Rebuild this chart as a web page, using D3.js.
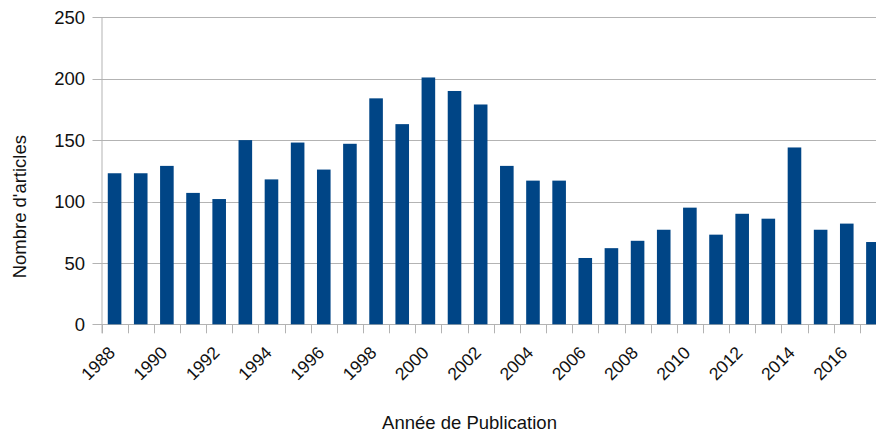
<!DOCTYPE html>
<html>
<head>
<meta charset="utf-8">
<script src="https://cdn.jsdelivr.net/npm/d3@7"></script>
<style>
    body { margin: 0; background: #fff; }
    svg { display: block; font-family: "Liberation Sans", Arial, sans-serif; }
    .grid line { stroke: #b3b3b3; }
</style>
</head>
<body>
<div id="chart"></div>
<script>
const years = [
    1988, 1989, 1990, 1991, 1992, 1993, 1994, 1995, 1996, 1997,
    1998, 1999, 2000, 2001, 2002, 2003, 2004, 2005, 2006, 2007,
    2008, 2009, 2010, 2011, 2012, 2013, 2014, 2015, 2016, 2017
];
const articles = [
    123, 123, 129, 107, 102, 150, 118, 148, 126, 147,
    184, 163, 201, 190, 179, 129, 117, 117, 54, 62,
    68, 77, 95, 73, 90, 86, 144, 77, 82, 67
];
const yTicks = [0, 50, 100, 150, 200, 250];
const xLabelYears = years.filter(d => d % 2 === 0);
const yTitle = "Nombre d'articles";
const xTitle = "Année de Publication";

class BarChart {
    constructor(selector) {
        this.width = 876;
        this.height = 432;
        this.left = 101.5;
        this.right = 886;
        this.top = 17.3;
        this.bottom = 324.3;
        this.barFrac = 0.52;
        this.svg = d3.select(selector).append("svg")
            .attr("width", this.width)
            .attr("height", this.height);

        // one slot per year, ticks sit on slot borders
        this.x = d3.scaleBand()
            .domain(years)
            .range([this.left, this.right])
            .padding(0);

        this.y = d3.scaleLinear()
            .domain([0, 250])
            .range([this.bottom, this.top]);
    }

    drawGrid() {
        this.svg.append("g")
            .attr("class", "grid")
            .selectAll("line")
            .data(yTicks)
            .enter()
            .append("line")
            .attr("x1", this.left - 9)
            .attr("x2", this.width)
            .attr("y1", d => Math.round(this.y(d)) + 0.5)
            .attr("y2", d => Math.round(this.y(d)) + 0.5);

        // y axis labels
        this.svg.append("g")
            .selectAll("text")
            .data(yTicks)
            .enter()
            .append("text")
            .attr("x", this.left - 16.5)
            .attr("y", d => this.y(d))
            .attr("dy", "0.36em")
            .attr("text-anchor", "end")
            .style("font-size", "18.5px")
            .style("fill", "#111")
            .text(d => d);

        // vertical axis line
        this.svg.append("line")
            .attr("x1", this.left + 0.5)
            .attr("x2", this.left + 0.5)
            .attr("y1", this.top)
            .attr("y2", this.bottom + 9)
            .style("stroke", "#b3b3b3");
    }

    drawXAxis() {
        const step = this.x.step();
        const borders = years.map(d => this.x(d)).concat([this.right]);

        this.svg.append("g")
            .selectAll("line")
            .data(borders)
            .enter()
            .append("line")
            .attr("x1", d => Math.round(d) + 0.5)
            .attr("x2", d => Math.round(d) + 0.5)
            .attr("y1", this.bottom)
            .attr("y2", this.bottom + 9)
            .style("stroke", "#b3b3b3");

        this.svg.append("g")
            .selectAll("text")
            .data(xLabelYears)
            .enter()
            .append("text")
            .attr("transform", d => `translate(${this.x(d) + step / 2 + 1.5},${this.bottom + 29.5}) rotate(-45)`)
            .attr("text-anchor", "end")
            .style("font-size", "17.5px")
            .style("fill", "#111")
            .text(d => d);
    }

    drawBars() {
        const bw = this.x.bandwidth();
        this.svg.append("g")
            .selectAll("rect")
            .data(years.map((d, i) => ({ year: d, value: articles[i] })))
            .enter()
            .append("rect")
            .attr("x", d => this.x(d.year) + bw * (1 - this.barFrac) / 2)
            .attr("width", bw * this.barFrac)
            .attr("y", d => this.y(d.value))
            .attr("height", d => this.y(0) - this.y(d.value))
            .style("fill", "#004586");
    }

    drawTitles() {
        this.svg.append("text")
            .attr("transform", "translate(25.5,206.7) rotate(-90)")
            .attr("text-anchor", "middle")
            .style("font-size", "18.5px")
            .style("fill", "#111")
            .text(yTitle);

        this.svg.append("text")
            .attr("x", 469.5)
            .attr("y", 429)
            .attr("text-anchor", "middle")
            .style("font-size", "18.5px")
            .style("fill", "#111")
            .text(xTitle);
    }

    render() {
        this.drawGrid();
        this.drawBars();
        this.drawXAxis();
        this.drawTitles();
    }
}

new BarChart("#chart").render();
</script>
</body>
</html>
